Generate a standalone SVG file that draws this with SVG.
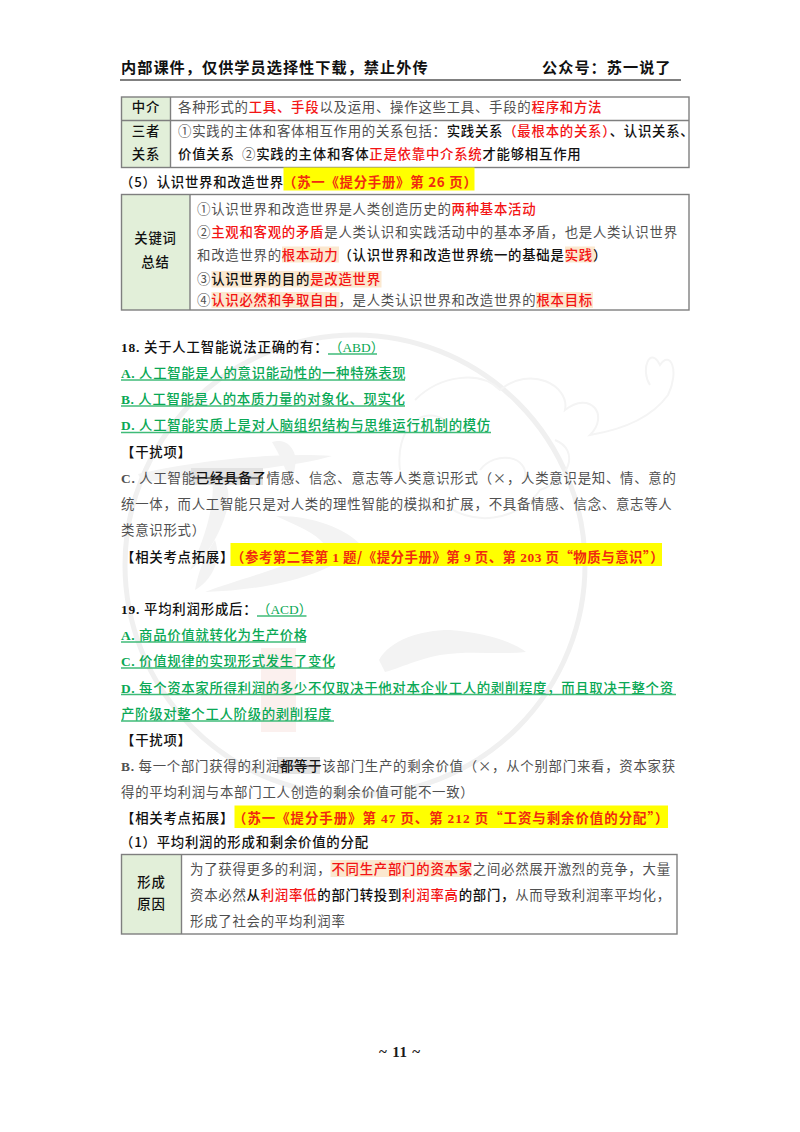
<svg xmlns="http://www.w3.org/2000/svg" width="800" height="1132" viewBox="0 0 800 1132">
<style>
text{font-family:"Noto Sans CJK SC","Noto Sans CJK TC",sans-serif;font-size:13.4px;letter-spacing:.75px;fill:#505050;white-space:pre}
.t{letter-spacing:.8px}
.b,.k{font-weight:500;fill:#111}
.h{font-size:15.2px;letter-spacing:1px;font-weight:700}
.r{font-weight:500;fill:#f31414}
.rr{font-weight:700;fill:#f02a10}
.gn{font-weight:500;fill:#0aa855;letter-spacing:.68px}
.g4{font-weight:400;letter-spacing:0}
.g4 .l{font-weight:400}
.n{letter-spacing:.55px}
.w{letter-spacing:1px}
.l{font-family:"Liberation Serif",serif;font-weight:700}
.c{text-anchor:middle}
.cell{fill:#e2efd9}
.bd{fill:none;stroke:#7f7f7f;stroke-width:1.4}
.ul{stroke:#3fbb78;stroke-width:1.4}
.y{fill:#ffff00}
.p{fill:#fbe8cf}
.s{fill:#e2e2e2}
.st{stroke:#222;stroke-width:1.2}
.wm{fill:#f3f3f3}
.wl{fill:none;stroke:#f4f4f4;stroke-width:2}
</style>
<rect width="800" height="1132" fill="#fff"/>
<g id="watermark">
<circle cx="355" cy="565" r="230" fill="none" stroke="#f0f0f0" stroke-width="5"/>
<path class="wm" d="M379 660C390 640 420 630 450 630C480 632 510 640 526 652C500 655 470 650 440 655C415 660 395 670 385 672Z"/>
<path class="wm" d="M138 474C190 462 270 452 332 456C300 466 220 474 142 482Z"/>
<path class="wm" d="M272 442C284 438 294 445 296 460L292 486C286 470 280 455 272 442Z"/>
<path class="wm" d="M212 476C226 476 230 488 228 505C224 525 210 555 190 570C204 540 216 505 212 476Z"/>
<path class="wm" d="M276 516C310 515 345 528 360 544C340 570 280 590 205 592C240 578 300 565 325 545C315 532 295 525 276 516Z"/>
<path class="wm" d="M215 540C222 560 212 580 195 590C198 572 205 555 215 540Z"/>
<rect x="261" y="648" width="35" height="84" fill="#fbf0ee"/>
<path class="wl" d="M415 400C440 375 480 370 500 390C530 365 570 385 565 410C590 390 610 415 590 435C620 430 650 420 668 395C680 370 670 350 660 365C650 345 640 370 650 385M400 470C395 430 420 405 445 420M440 500C470 530 520 520 540 490C570 480 580 450 555 440M480 470C495 450 530 455 525 480"/>
</g>
<g id="header">
<text class="h b" x="121" y="73">内部课件，仅供学员选择性下载，禁止外传</text>
<text class="h b" x="542" y="73">公众号：苏一说了</text>
<line x1="120" y1="80" x2="681" y2="80" stroke="#808080" stroke-width="2"/>
</g>
<g id="table-mediator">
<rect class="cell" x="121.5" y="97" width="49" height="70.5"/>
<rect class="bd" x="121.5" y="97" width="567.5" height="70.5"/>
<line class="bd" x1="170.5" y1="97" x2="170.5" y2="167.5"/>
<line class="bd" x1="121.5" y1="120.5" x2="689" y2="120.5"/>
<text class="b c" x="146" y="112">中介</text>
<text class="b c" x="146" y="136">三者</text>
<text class="b c" x="146" y="159">关系</text>
<text x="178" y="112">各种形式的<tspan class="r">工具、手段</tspan>以及运用、操作这些工具、手段的<tspan class="r">程序和方法</tspan></text>
<text x="178" y="136">①实践的主体和客体相互作用的关系包括：<tspan class="k">实践关系</tspan><tspan class="r">（最根本的关系）</tspan><tspan class="k">、认识关系、</tspan></text>
<text x="178" y="159"><tspan class="k">价值关系</tspan>  ②<tspan class="k">实践的主体和客体</tspan><tspan class="r">正是依靠中介系统</tspan><tspan class="k">才能够相互作用</tspan></text>
</g>
<g id="heading-5">
<rect class="y" x="283.5" y="167.5" width="191" height="23"/>
<text class="b" x="120" y="187">（5）认识世界和改造世界</text>
<text class="rr" x="283" y="187">（苏一《提分手册》第 26 页）</text>
</g>
<g id="table-keywords">
<rect class="cell" x="121.5" y="194.5" width="68.5" height="115.5"/>
<rect class="bd" x="121.5" y="194.5" width="567.5" height="115.5"/>
<line class="bd" x1="190" y1="194.5" x2="190" y2="310"/>
<rect class="p" x="282" y="246.5" width="57" height="16"/>
<rect class="p" x="565" y="246.5" width="30" height="16"/>
<rect class="p" x="211.5" y="271" width="170" height="16.5"/>
<rect class="p" x="211.5" y="292" width="128" height="16"/>
<rect class="p" x="536" y="292" width="57" height="16"/>
<text class="b c" x="155.5" y="243">关键词</text>
<text class="b c" x="155.5" y="267">总结</text>
<text x="197" y="214">①认识世界和改造世界是人类创造历史的<tspan class="r">两种基本活动</tspan></text>
<text x="197" y="237">②<tspan class="r">主观和客观的矛盾</tspan>是人类认识和实践活动中的基本矛盾，也是人类认识世界</text>
<text x="197" y="260">和改造世界的<tspan class="r">根本动力</tspan><tspan class="k">（认识世界和改造世界统一的基础是</tspan><tspan class="r">实践</tspan><tspan class="k">）</tspan></text>
<text x="197" y="284">③<tspan class="k">认识世界的目的</tspan><tspan class="r">是改造世界</tspan></text>
<text x="197" y="305">④<tspan class="r">认识必然和争取自由</tspan>，是人类认识世界和改造世界的<tspan class="r">根本目标</tspan></text>
</g>
<g id="question-18">
<text class="k t" x="121" y="352"><tspan class="l">18.</tspan> 关于人工智能说法正确的有：</text>
<text class="gn g4" x="329" y="352">（<tspan class="l">ABD</tspan>）</text>
<line class="ul" x1="328" y1="354" x2="377" y2="354"/>
<text class="gn" x="121" y="378"><tspan class="l">A.</tspan> 人工智能是人的意识能动性的一种特殊表现</text>
<line class="ul" x1="121" y1="380" x2="405" y2="380"/>
<text class="gn" x="121" y="404"><tspan class="l">B.</tspan> 人工智能是人的本质力量的对象化、现实化</text>
<line class="ul" x1="121" y1="406" x2="405" y2="406"/>
<text class="gn" x="121" y="430"><tspan class="l">D.</tspan> 人工智能实质上是对人脑组织结构与思维运行机制的模仿</text>
<line class="ul" x1="121" y1="432.5" x2="491" y2="432.5"/>
<text class="b" x="121" y="457">【干扰项】</text>
<rect class="s" x="191" y="468" width="72" height="17"/>
<text x="121" y="483"><tspan class="l">C.</tspan> 人工智能<tspan class="k">已经具备了</tspan>情感、信念、意志等人类意识形式（×，人类意识是知、情、意的</text>
<line class="st" x1="192" y1="478" x2="263" y2="478"/>
<text x="121" y="509">统一体，而人工智能只是对人类的理性智能的模拟和扩展，不具备情感、信念、意志等人</text>
<text x="121" y="535">类意识形式）</text>
<text class="b" x="121" y="562">【相关考点拓展】</text>
<rect class="y" x="230.5" y="543" width="431.5" height="23"/>
<text class="rr n" x="231" y="562">（参考第二套第 <tspan class="l">1</tspan> 题/《提分手册》第 <tspan class="l">9</tspan> 页、第 <tspan class="l">203</tspan> 页“物质与意识”）</text>
</g>
<g id="question-19">
<text class="k t" x="121" y="614"><tspan class="l">19.</tspan> 平均利润形成后：</text>
<text class="gn g4" x="257" y="614">（<tspan class="l">ACD</tspan>）</text>
<line class="ul" x1="257" y1="616" x2="306.5" y2="616"/>
<text class="gn" x="121" y="640"><tspan class="l">A.</tspan> 商品价值就转化为生产价格</text>
<line class="ul" x1="121" y1="642" x2="306" y2="642"/>
<text class="gn" x="121" y="666"><tspan class="l">C.</tspan> 价值规律的实现形式发生了变化</text>
<line class="ul" x1="121" y1="668" x2="334" y2="668"/>
<text class="gn" x="121" y="693"><tspan class="l">D.</tspan> 每个资本家所得利润的多少不仅取决于他对本企业工人的剥削程度，而且取决于整个资</text>
<line class="ul" x1="121" y1="694.5" x2="676" y2="694.5"/>
<text class="gn" x="121" y="719">产阶级对整个工人阶级的剥削程度</text>
<line class="ul" x1="121" y1="721" x2="334" y2="721"/>
<text class="b" x="121" y="745">【干扰项】</text>
<rect class="s" x="277" y="757" width="43" height="17"/>
<text x="121" y="771"><tspan class="l">B.</tspan> 每一个部门获得的利润<tspan class="k">都等于</tspan>该部门生产的剩余价值（×，从个别部门来看，资本家获</text>
<line class="st" x1="278" y1="766" x2="320" y2="766"/>
<text x="121" y="797">得的平均利润与本部门工人创造的剩余价值可能不一致）</text>
<text class="b" x="121" y="823">【相关考点拓展】</text>
<rect class="y" x="234.5" y="805.5" width="433.5" height="22.5"/>
<text class="rr w" x="233" y="823">（苏一《提分手册》第 <tspan class="l">47</tspan> 页、第 <tspan class="l">212</tspan> 页“工资与剩余价值的分配”）</text>
</g>
<g id="table-formation">
<text class="b" x="120" y="847">（1）平均利润的形成和剩余价值的分配</text>
<rect class="cell" x="121.5" y="854.5" width="60" height="79.5"/>
<rect class="bd" x="121.5" y="854.5" width="555.5" height="79.5"/>
<line class="bd" x1="181.5" y1="854.5" x2="181.5" y2="934"/>
<rect class="p" x="330.5" y="860" width="141" height="17"/>
<text class="b c" x="151.5" y="887">形成</text>
<text class="b c" x="151.5" y="909">原因</text>
<text x="190" y="874">为了获得更多的利润，<tspan class="r">不同生产部门的资本家</tspan>之间必然展开激烈的竞争，大量</text>
<text x="190" y="900">资本必然<tspan class="k">从</tspan><tspan class="r">利润率低</tspan><tspan class="k">的部门转投到</tspan><tspan class="r">利润率高</tspan><tspan class="k">的部门，</tspan>从而导致利润率平均化，</text>
<text x="190" y="926">形成了社会的平均利润率</text>
</g>
<g id="footer">
<text class="l c" x="400" y="1057" style="font-size:15px;font-weight:700;fill:#1a1a1a">~ 11 ~</text>
</g>
</svg>
